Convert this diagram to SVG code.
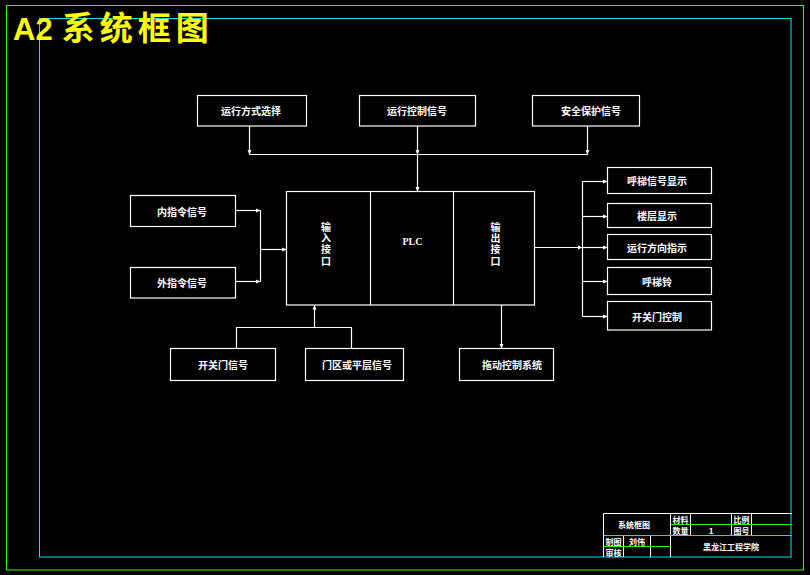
<svg xmlns="http://www.w3.org/2000/svg" width="810" height="575" viewBox="0 0 810 575">
<style>
.box{fill:none;stroke:#fff;stroke-width:1.2}
.ln{fill:none;stroke:#fff;stroke-width:1.2}
.t{fill:#fff;font-family:"Noto Sans CJK SC","Liberation Sans",sans-serif;font-size:10px;font-weight:bold;text-anchor:middle;dominant-baseline:central}
.v{fill:#fff;font-family:"Noto Sans CJK SC","Liberation Sans",sans-serif;font-size:10px;font-weight:bold;writing-mode:vertical-rl;letter-spacing:1.3px}
.tb{fill:#fff;font-family:"Noto Sans CJK SC","Liberation Sans",sans-serif;font-size:8px;font-weight:bold;text-anchor:middle;dominant-baseline:central}
.g{stroke:#33ff00;stroke-width:1;fill:none}
.c{stroke:#00e5ee;stroke-width:1;fill:none}
.w{stroke:#fff;stroke-width:1;fill:none}
</style>
<defs>
<marker id="ar" markerWidth="5" markerHeight="5" refX="4.5" refY="2.5" orient="auto" markerUnits="userSpaceOnUse">
<path d="M0,0.5 L4.5,2.5 L0,4.5 z" fill="#fff"/>
</marker>
</defs>
<rect width="810" height="575" fill="#000"/>
<rect class="g" x="6.5" y="5.5" width="797" height="564.5"/>
<rect class="c" x="39.5" y="18.5" width="751.5" height="538.5"/>
<text x="13" y="40" fill="#ffff00" font-family="'Liberation Sans','Noto Sans CJK SC',sans-serif" font-size="31" font-weight="bold">A2<tspan dx="9" font-size="33" letter-spacing="5">系统框图</tspan></text>

<g id="n-yxfs"><rect class="box" x="197.5" y="95.5" width="109" height="30.5"/><text class="t" x="251" y="110.5">运行方式选择</text></g>
<g id="n-yxkz"><rect class="box" x="359.5" y="95.5" width="116" height="30.5"/><text class="t" x="417" y="110.5">运行控制信号</text></g>
<g id="n-aqbh"><rect class="box" x="532.5" y="95.5" width="107" height="30.5"/><text class="t" x="591" y="110.5">安全保护信号</text></g>

<g id="n-nzl"><rect class="box" x="130.5" y="195.5" width="105" height="31"/><text class="t" x="182" y="211">内指令信号</text></g>
<g id="n-wzl"><rect class="box" x="130.5" y="267.5" width="105" height="30.5"/><text class="t" x="182" y="282.5">外指令信号</text></g>

<g id="n-plc">
<rect class="box" x="286.5" y="191.5" width="248" height="113.5"/>
<line class="ln" x1="370.5" y1="191.5" x2="370.5" y2="305"/>
<line class="ln" x1="453.5" y1="191.5" x2="453.5" y2="305"/>
<text class="v" x="326" y="222">输入接口</text>
<text x="412.5" y="241.5" fill="#fff" font-family="'Liberation Serif',serif" font-size="10" font-weight="bold" text-anchor="middle" dominant-baseline="central">PLC</text>
<text class="v" x="495.5" y="222">输出接口</text>
</g>

<g id="n-htxh"><rect class="box" x="607.5" y="167.5" width="104" height="26"/><text class="t" x="657" y="180.5">呼梯信号显示</text></g>
<g id="n-lcxs"><rect class="box" x="607.5" y="203.5" width="104" height="24"/><text class="t" x="657" y="215.5">楼层显示</text></g>
<g id="n-yxfx"><rect class="box" x="607.5" y="234.5" width="104" height="25"/><text class="t" x="657" y="247">运行方向指示</text></g>
<g id="n-htl"><rect class="box" x="607.5" y="267.5" width="104" height="27"/><text class="t" x="657" y="281">呼梯铃</text></g>
<g id="n-kgmkz"><rect class="box" x="607.5" y="301.5" width="104" height="28.5"/><text class="t" x="657" y="316">开关门控制</text></g>

<g id="n-kgmxh"><rect class="box" x="170.5" y="348.5" width="105" height="32"/><text class="t" x="223" y="364.5">开关门信号</text></g>
<g id="n-mqpc"><rect class="box" x="305.5" y="348.5" width="98" height="32"/><text class="t" x="357" y="364.5">门区或平层信号</text></g>
<g id="n-tdkz"><rect class="box" x="459.5" y="348.5" width="94" height="32"/><text class="t" x="512" y="364.5">拖动控制系统</text></g>

<g id="connectors">
<line class="ln" x1="249.5" y1="126" x2="249.5" y2="154.5" marker-end="url(#ar)"/>
<line class="ln" x1="417.5" y1="126" x2="417.5" y2="154.5" marker-end="url(#ar)"/>
<line class="ln" x1="587.5" y1="126" x2="587.5" y2="154.5" marker-end="url(#ar)"/>
<line class="ln" x1="249.5" y1="154.5" x2="587.5" y2="154.5"/>
<line class="ln" x1="417.5" y1="154.5" x2="417.5" y2="191.5" marker-end="url(#ar)"/>

<line class="ln" x1="236" y1="210.5" x2="260.5" y2="210.5" marker-end="url(#ar)"/>
<line class="ln" x1="236" y1="281.5" x2="260.5" y2="281.5" marker-end="url(#ar)"/>
<line class="ln" x1="260.5" y1="210.5" x2="260.5" y2="281.5"/>
<line class="ln" x1="260.5" y1="249.5" x2="286.5" y2="249.5" marker-end="url(#ar)"/>

<line class="ln" x1="534.5" y1="247.5" x2="582.5" y2="247.5" marker-end="url(#ar)"/>
<line class="ln" x1="582.5" y1="181.5" x2="582.5" y2="316.5"/>
<line class="ln" x1="582.5" y1="181.5" x2="607.5" y2="181.5" marker-end="url(#ar)"/>
<line class="ln" x1="582.5" y1="216.5" x2="607.5" y2="216.5" marker-end="url(#ar)"/>
<line class="ln" x1="582.5" y1="247.5" x2="607.5" y2="247.5" marker-end="url(#ar)"/>
<line class="ln" x1="582.5" y1="281.5" x2="607.5" y2="281.5" marker-end="url(#ar)"/>
<line class="ln" x1="582.5" y1="316.5" x2="607.5" y2="316.5" marker-end="url(#ar)"/>

<polyline class="ln" points="236.5,348.5 236.5,327.5 351.5,327.5 351.5,348.5"/>
<line class="ln" x1="314.5" y1="327.5" x2="314.5" y2="305" marker-end="url(#ar)"/>
<line class="ln" x1="501.5" y1="305" x2="501.5" y2="348.5" marker-end="url(#ar)"/>
</g>

<g id="titleblock">
<line class="w" x1="603.5" y1="513.5" x2="792" y2="513.5"/>
<line class="w" x1="603.5" y1="513.5" x2="603.5" y2="557"/>
<line class="w" x1="623.5" y1="535.5" x2="623.5" y2="557"/>
<line class="w" x1="650.5" y1="535.5" x2="650.5" y2="557"/>
<line class="w" x1="670.5" y1="513.5" x2="670.5" y2="557"/>
<line class="w" x1="690.5" y1="513.5" x2="690.5" y2="535.5"/>
<line class="w" x1="731.5" y1="513.5" x2="731.5" y2="535.5"/>
<line class="w" x1="751.5" y1="513.5" x2="751.5" y2="535.5"/>
<line class="g" x1="670.5" y1="524.5" x2="792" y2="524.5"/>
<line class="g" x1="603.5" y1="535.5" x2="792" y2="535.5"/>
<line class="g" x1="603.5" y1="546.5" x2="670.5" y2="546.5"/>
<text class="tb" x="634" y="524.5">系统框图</text>
<text class="tb" x="680.5" y="519">材料</text>
<text class="tb" x="680.5" y="530">数量</text>
<text class="tb" x="711" y="530" font-family="'Liberation Serif',serif">1</text>
<text class="tb" x="741.5" y="519">比例</text>
<text class="tb" x="741.5" y="530">图号</text>
<text class="tb" x="613.5" y="541">制图</text>
<text class="tb" x="613.5" y="552">审核</text>
<text class="tb" x="637" y="541">刘伟</text>
<text class="tb" x="731" y="546.5" font-size="11">黑龙江工程学院</text>
</g>
</svg>
